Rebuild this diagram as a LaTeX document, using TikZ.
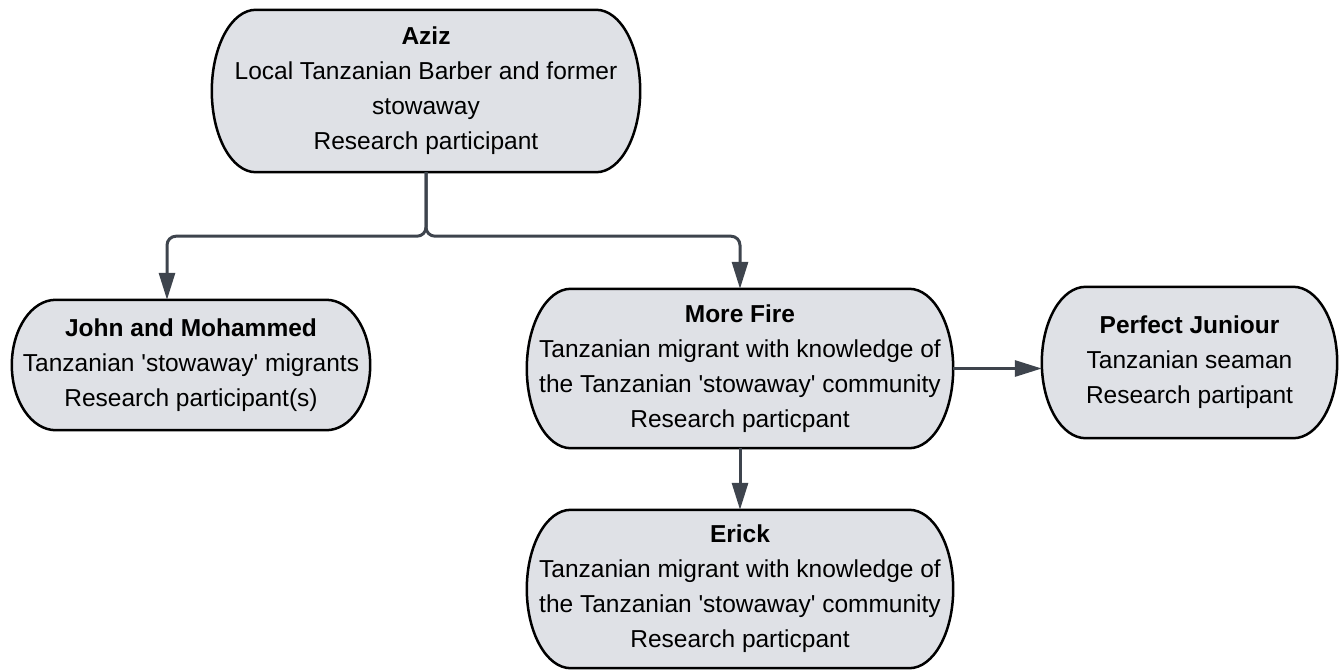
\documentclass[tikz,border=0pt]{standalone}
\usepackage{fontspec}
\setmainfont{Liberation Sans}
\usetikzlibrary{arrows.meta,calc,backgrounds}

\definecolor{boxgray}{RGB}{223,225,230}
\definecolor{linkgray}{RGB}{62,68,77}

\begin{document}
\begin{tikzpicture}[x=1pt,y=-1pt,>={Triangle[length=27pt,width=16pt]},
  person/.style={rectangle,inner sep=0pt,align=center,font=\fontsize{24.5}{35}\selectfont},
  outline/.style={draw=black,line width=2.5pt,fill=boxgray},
  link/.style={->,draw=linkgray,line width=3pt,rounded corners=9pt}]

  \useasboundingbox (0,0) rectangle (1344,670);

  \node[person,minimum width=428pt,minimum height=162pt] (aziz) at (426,91)
    {\textbf{Aziz}\\Local Tanzanian Barber and former\\stowaway\\Research participant};
  \node[person,minimum width=358pt,minimum height=130pt] (john) at (191,365)
    {\textbf{John and Mohammed}\\Tanzanian \textquotesingle stowaway\textquotesingle{} migrants\\Research participant(s)};
  \node[person,minimum width=426pt,minimum height=159pt] (fire) at (740,368.5)
    {\textbf{More Fire}\\Tanzanian migrant with knowledge of\\the Tanzanian \textquotesingle stowaway\textquotesingle{} community\\Research particpant};
  \node[person,minimum width=295pt,minimum height=151pt] (junior) at (1189.5,362.5)
    {\textbf{Perfect Juniour}\\Tanzanian seaman\\Research partipant};
  \node[person,minimum width=426pt,minimum height=158pt] (erick) at (740,589)
    {\textbf{Erick}\\Tanzanian migrant with knowledge of\\the Tanzanian \textquotesingle stowaway\textquotesingle{} community\\Research particpant};

  % pill outlines behind the text
  \begin{scope}[on background layer]
    \foreach \nd in {aziz,john,fire,junior,erick}
      \draw[outline] let \p1=(\nd.north west), \p2=(\nd.south east), \n1={(\y1-\y2)/2} in
        (\x1+44pt,\y1) -- (\x2-44pt,\y1)
        arc[start angle=90,end angle=-90,x radius=44pt,y radius=\n1]
        -- (\x1+44pt,\y2)
        arc[start angle=-90,end angle=-270,x radius=44pt,y radius=\n1] -- cycle;
  \end{scope}

  \draw[link] (aziz.south) -- ++(0,64) -| ([xshift=-24pt]john.north);
  \draw[link] (aziz.south) -- ++(0,64) -| (fire.north);
  \draw[link] (fire.east) -- (fire.east -| junior.west);
  \draw[link] (fire.south) -- (erick.north);
\end{tikzpicture}
\end{document}
